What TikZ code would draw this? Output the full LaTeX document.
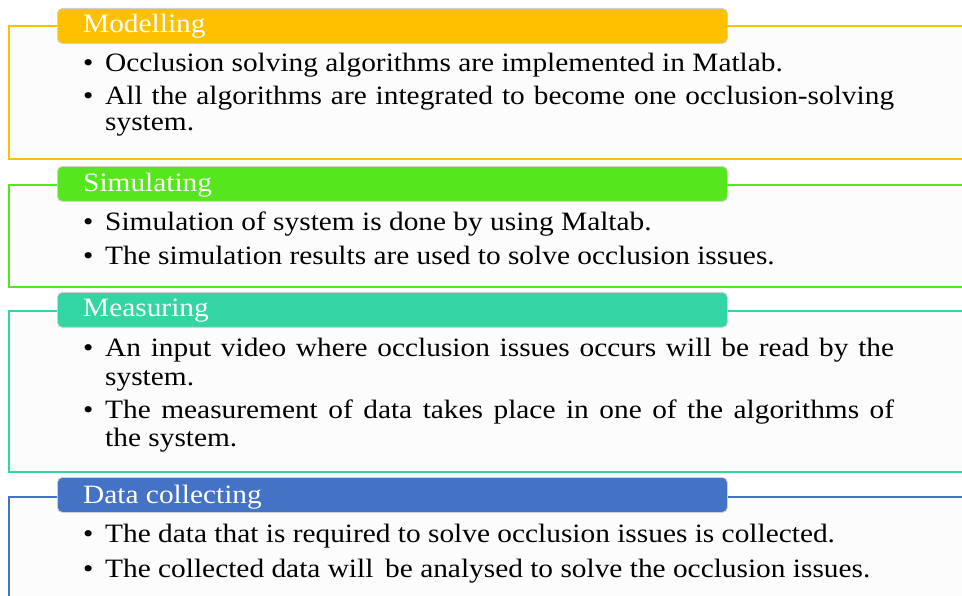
\documentclass[tikz,border=0pt]{standalone}
\usepackage{fontspec}
\setmainfont{Liberation Serif}

\definecolor{cOrange}{HTML}{FFC000}
\definecolor{cGreen}{HTML}{55E61E}
\definecolor{cTeal}{HTML}{31D6A3}
\definecolor{cBlue}{HTML}{4472C4}
\definecolor{paper}{HTML}{FCFCFC}

% slightly widened type, and a justified full line of 789pt
\newcommand{\widetype}[1]{\scalebox{1.108}[1]{#1}}
\newcommand{\jline}[1]{\scalebox{1.108}[1]{\makebox[712pt][s]{#1}}}

\tikzset{
  frame/.style={draw=#1, line width=2pt, fill=paper, anchor=north west,
                inner sep=0pt, minimum width=970pt},
  tab/.style={fill=#1, draw=black!18, line width=0.8pt, rounded corners=5pt,
              anchor=north west, inner sep=0pt, minimum width=670pt, minimum height=35pt},
  txt/.style={anchor=base west, inner sep=0pt, font=\fontsize{26.5}{28}\selectfont},
  head/.style={txt, text=white},
  bullet/.style={txt},
}

\begin{document}
\begin{tikzpicture}[x=1pt, y=-1pt]
  \useasboundingbox (0,0) rectangle (962,596);
  \clip (0,0) rectangle (962,596);

  % --- Modelling ---
  \node[frame=cOrange, minimum height=133pt] (box1) at (8,25) {};
  \node[tab=cOrange] (tab1) at (57,8) {};
  \node[head] (h1) at (83,33) {\widetype{Modelling}};
  \node[bullet] (b11) at (83,72) {\widetype{•}};
  \node[txt] (t11) at (105,72) {\widetype{Occlusion solving algorithms are implemented in Matlab.}};
  \node[bullet] (b12) at (83,105) {\widetype{•}};
  \node[txt] (t12) at (105,105) {\jline{All the algorithms are integrated to become one occlusion-solving}};
  \node[txt] (t13) at (105,131) {\widetype{system.}};

  % --- Simulating ---
  \node[frame=cGreen, minimum height=102pt] (box2) at (8,184) {};
  \node[tab=cGreen] (tab2) at (57,166) {};
  \node[head] (h2) at (83,192) {\widetype{Simulating}};
  \node[bullet] (b21) at (83,231) {\widetype{•}};
  \node[txt] (t21) at (105,231) {\widetype{Simulation of system is done by using Maltab.}};
  \node[bullet] (b22) at (83,265) {\widetype{•}};
  \node[txt] (t22) at (105,265) {\widetype{The simulation results are used to solve occlusion issues.}};

  % --- Measuring ---
  \node[frame=cTeal, minimum height=161pt] (box3) at (8,310) {};
  \node[tab=cTeal] (tab3) at (57,292) {};
  \node[head] (h3) at (83,317) {\widetype{Measuring}};
  \node[bullet] (b31) at (83,356) {\widetype{•}};
  \node[txt] (t31) at (105,356) {\jline{An input video where occlusion issues occurs will be read by the}};
  \node[txt] (t32) at (105,385) {\widetype{system.}};
  \node[bullet] (b32) at (83,418) {\widetype{•}};
  \node[txt] (t33) at (105,418) {\jline{The measurement of data takes place in one of the algorithms of}};
  \node[txt] (t34) at (105,446) {\widetype{the system.}};

  % --- Data collecting ---
  \node[frame=cBlue, minimum height=120pt] (box4) at (8,496) {};
  \node[tab=cBlue] (tab4) at (57,477) {};
  \node[head] (h4) at (83,503) {\widetype{Data collecting}};
  \node[bullet] (b41) at (83,542) {\widetype{•}};
  \node[txt] (t41) at (105,542) {\widetype{The data that is required to solve occlusion issues is collected.}};
  \node[bullet] (b42) at (83,577) {\widetype{•}};
  \node[txt] (t42) at (105,577) {\widetype{The collected data will\hspace{0.4em}be analysed to solve the occlusion issues.}};
\end{tikzpicture}
\end{document}
